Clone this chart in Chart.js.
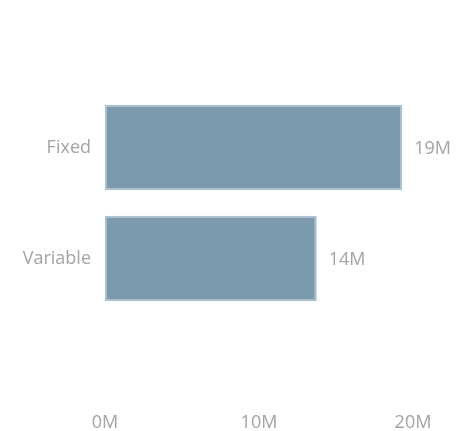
<!DOCTYPE html>
<html>
<head>
<meta charset="utf-8">
<script src="https://cdn.jsdelivr.net/npm/chart.js@4"></script>
<style>
  html, body { margin: 0; padding: 0; background: #fff; }
  #wrap { width: 461px; height: 431px; }
</style>
</head>
<body>
<div id="wrap"><canvas id="barChart"></canvas></div>
<script>
// datos del grafico
const categories = ["Fixed", "Variable"];
const values = [19.3, 13.75];
const valueLabels = ["19M", "14M"];
const tickValues = [0, 10, 20];

const fontFamily = "'Open Sans', sans-serif";
const textColor = "#a3a3a3";

// etiquetas al final de cada barra
const endLabels = {
  id: "endLabels",
  afterDatasetsDraw(chart) {
    const ctx = chart.ctx;
    const meta = chart.getDatasetMeta(0);
    ctx.save();
    ctx.font = "18px " + fontFamily;
    ctx.fillStyle = textColor;
    ctx.textAlign = "left";
    ctx.textBaseline = "middle";
    meta.data.forEach((bar, i) => {
      ctx.fillText(valueLabels[i], bar.x + 12, bar.y + 1);
    });
    ctx.restore();
  },
};

const ctx = document.getElementById("barChart").getContext("2d");
new Chart(ctx, {
  type: "bar",
  data: {
    labels: categories,
    datasets: [
      {
        data: values,
        backgroundColor: "#7b9aad",
        borderColor: "#a8bfcd",
        borderWidth: 2,
        borderSkipped: false,
        categoryPercentage: 1,
        barPercentage: 0.77,
      },
    ],
  },
  options: {
    indexAxis: "y",
    responsive: true,
    maintainAspectRatio: false,
    animation: false,
    layout: { padding: { top: 92, right: 48, left: 0, bottom: 0 } },
    plugins: { legend: { display: false }, tooltip: { enabled: false } },
    scales: {
      x: {
        min: 0,
        max: 20,
        afterBuildTicks: (scale) => {
          scale.ticks = tickValues.map((v) => ({ value: v }));
        },
        afterFit: (scale) => {
          scale.height = 117;
          scale.paddingLeft = 0;
          scale.paddingRight = 0;
        },
        grid: { display: false },
        border: { display: false },
        ticks: {
          padding: 90,
          maxRotation: 0,
          minRotation: 0,
          autoSkip: false,
          color: textColor,
          font: { family: fontFamily, size: 18 },
          callback: (v) => v + "M",
        },
      },
      y: {
        afterFit: (scale) => {
          scale.width = 105;
        },
        grid: { display: false },
        border: { display: false },
        ticks: {
          padding: 6,
          color: textColor,
          font: { family: fontFamily, size: 18 },
        },
      },
    },
  },
  plugins: [endLabels],
});
</script>
</body>
</html>
